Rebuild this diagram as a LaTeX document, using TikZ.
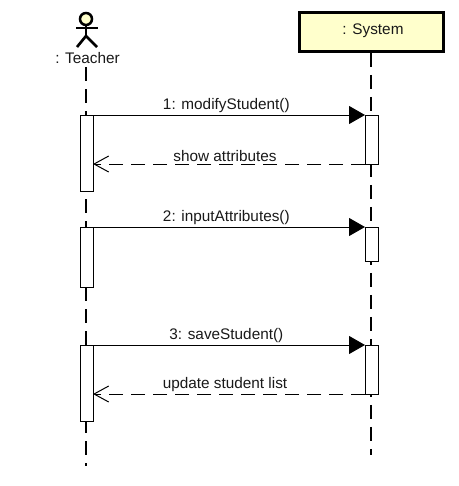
\documentclass[tikz,border=0pt]{standalone}
\usepackage{fontspec}
\setmainfont{Liberation Sans}
\usetikzlibrary{arrows.meta}
\definecolor{umlfill}{RGB}{255,255,204}
\tikzset{
  x=0.75pt,y=-0.75pt,
  label text/.style={font=\fontsize{11.5}{13}\selectfont,text=black!90,inner sep=0pt},
  lifeline/.style={line width=0.85pt,dash pattern=on 10.5pt off 6pt},
  activation/.style={draw,fill=white,line width=0.75pt,minimum width=9.75pt,inner sep=0pt,outer sep=0pt},
  call/.style={line width=0.75pt,-{Triangle[length=12pt,width=13.5pt]}},
  reply/.style={line width=0.75pt,dash pattern=on 10.5pt off 6pt,-{Straight Barb[length=11pt,width=12pt,line width=0.75pt]}},
  stick/.style={line width=2pt},
  msg/.style={label text,above=1.2pt,midway,xshift=-2pt},
  rmsg/.style={label text,above=1.2pt,midway,xshift=-3pt}
}
\begin{document}
\begin{tikzpicture}
\useasboundingbox (0,0) rectangle (458,486);
\fill[white] (0,0) rectangle (458,486);

% Actor
\node[draw,circle,fill=umlfill,line width=1.9pt,minimum size=9pt,inner sep=0pt] (head) at (86,19) {};
\coordinate (hip) at (86,36);
\coordinate (armL) at (76,28);
\coordinate (armR) at (98,28);
\coordinate (legL) at (77,47);
\coordinate (legR) at (97,47);
\draw[stick] (head.south) -- (hip);
\draw[stick] (armL) -- (armR);
\draw[stick] (legL) -- (hip) -- (legR);
\node[label text] (teacher) at (87.5,58.5) {: Teacher};

% System
\node[draw,fill=umlfill,line width=2.4pt,minimum width=108pt,minimum height=29pt,inner sep=0pt] (system) at (371.5,32) {};
\node[label text] (systemlabel) at (373,30.5) {: System};

% Lifelines
\coordinate (tEnd) at (86,466);
\coordinate (sEnd) at (371,455);
\draw[lifeline] (86,67) -- (tEnd);
\draw[lifeline] (system.south -| sEnd) -- (sEnd);

% Activations
\node[activation,minimum height=57pt] (a1) at (86.5,153) {};
\node[activation,minimum height=45pt] (a2) at (86.5,257) {};
\node[activation,minimum height=57pt] (a3) at (86.5,383) {};
\node[activation,minimum height=36.75pt] (s1) at (371.5,139.5) {};
\node[activation,minimum height=25.5pt] (s2) at (371.5,244) {};
\node[activation,minimum height=36.75pt] (s3) at (371.5,369.5) {};

% Messages
\draw[call] (a1.north east) -- node[msg] {1: modifyStudent()} (s1.north west);
\draw[reply] (s1.south west) -- node[rmsg] {show attributes} (a1.east |- s1.south west);
\draw[call] (a2.north east) -- node[msg] {2: inputAttributes()} (s2.north west);
\draw[call] (a3.north east) -- node[msg] {3: saveStudent()} (s3.north west);
\draw[reply] (s3.south west) -- node[rmsg] {update student list} (a3.east |- s3.south west);
\end{tikzpicture}
\end{document}
